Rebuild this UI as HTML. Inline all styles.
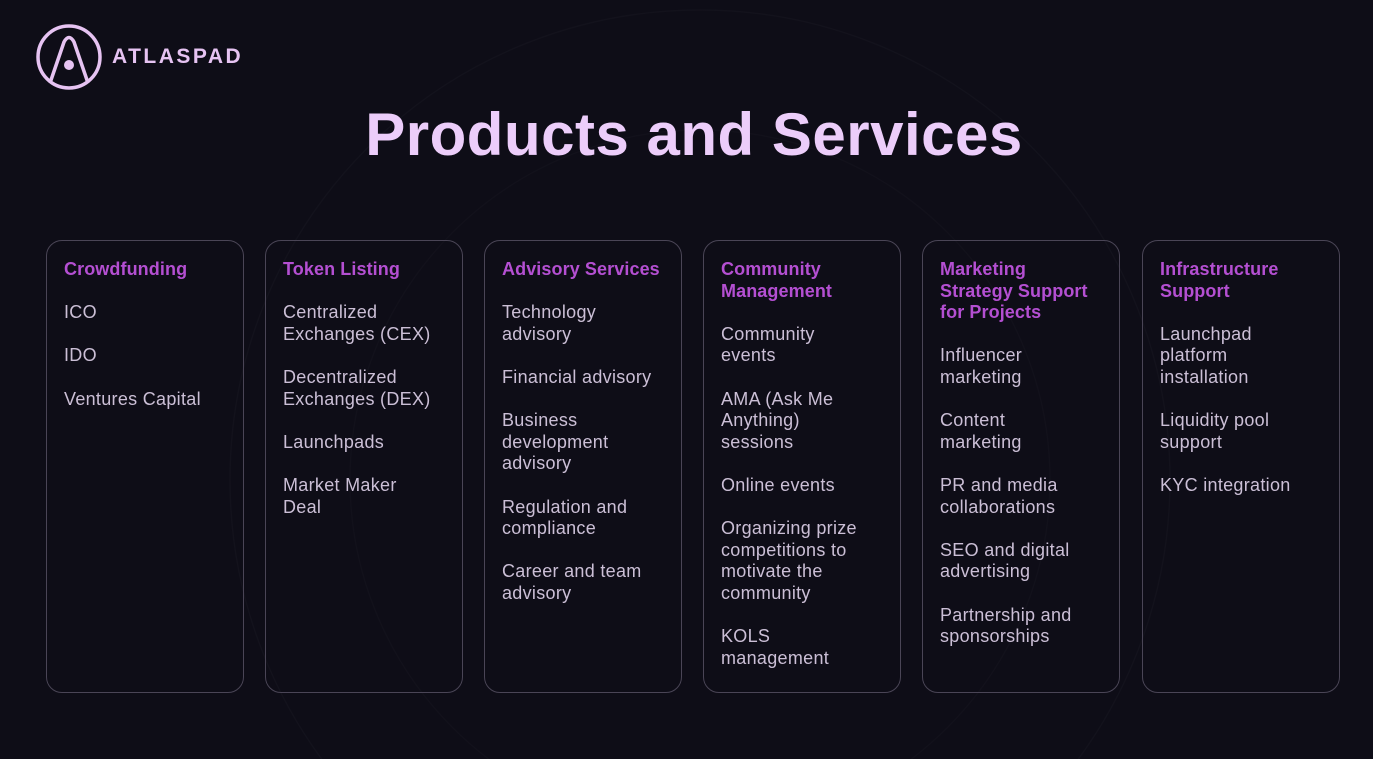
<!DOCTYPE html>
<html><head><meta charset="utf-8"><style>
html,body{margin:0;padding:0}
body{width:1373px;height:759px;background:#0e0d17;position:relative;overflow:hidden;font-family:"Liberation Sans",sans-serif}
.card{position:absolute;top:240px;width:198px;height:453px;border:1.5px solid #4a4556;border-radius:16px;box-sizing:border-box;padding:18px 0 0 17px}
.card div{font-size:18px;line-height:21.6px;white-space:nowrap;color:#cbbfd6;margin-bottom:21.6px;letter-spacing:0.3px}
.card div.h{color:#b44fd2;font-weight:bold;letter-spacing:0.1px}
.title{position:absolute;top:100px;left:0;width:1388px;text-align:center;font-size:60px;font-weight:bold;color:#eccdfa;letter-spacing:0.5px}
.logo{position:absolute;left:112px;top:45px;font-size:21px;color:#e6c3f2;letter-spacing:2.5px;font-weight:bold}
</style></head><body>
<svg width="1373" height="759" style="position:absolute;left:0;top:0">
<circle cx="700" cy="480" r="470" fill="none" stroke="#13121c" stroke-width="1.5"/>
<circle cx="700" cy="480" r="350" fill="none" stroke="#12111b" stroke-width="1.5"/>
<circle cx="69" cy="57" r="31" fill="none" stroke="#e6c3f2" stroke-width="3.5"/>
<path d="M50 83 L64 42 Q69 33 74 42 L88 83" fill="none" stroke="#e6c3f2" stroke-width="3.5"/>
<circle cx="69" cy="65" r="5" fill="#e6c3f2"/>
</svg>
<div class="logo">ATLASPAD</div>
<div class="title">Products and Services</div>

<div class="card" style="left:46px"><div class="h">Crowdfunding</div><div>ICO</div><div>IDO</div><div>Ventures Capital</div></div>
<div class="card" style="left:265px"><div class="h">Token Listing</div><div>Centralized<br>Exchanges (CEX)</div><div>Decentralized<br>Exchanges (DEX)</div><div>Launchpads</div><div>Market Maker<br>Deal</div></div>
<div class="card" style="left:484px"><div class="h">Advisory Services</div><div>Technology<br>advisory</div><div>Financial advisory</div><div>Business<br>development<br>advisory</div><div>Regulation and<br>compliance</div><div>Career and team<br>advisory</div></div>
<div class="card" style="left:703px"><div class="h">Community<br>Management</div><div>Community<br>events</div><div>AMA (Ask Me<br>Anything)<br>sessions</div><div>Online events</div><div>Organizing prize<br>competitions to<br>motivate the<br>community</div><div>KOLS<br>management</div></div>
<div class="card" style="left:922px"><div class="h">Marketing<br>Strategy Support<br>for Projects</div><div>Influencer<br>marketing</div><div>Content<br>marketing</div><div>PR and media<br>collaborations</div><div>SEO and digital<br>advertising</div><div>Partnership and<br>sponsorships</div></div>
<div class="card" style="left:1142px"><div class="h">Infrastructure<br>Support</div><div>Launchpad<br>platform<br>installation</div><div>Liquidity pool<br>support</div><div>KYC integration</div></div>
</body></html>
